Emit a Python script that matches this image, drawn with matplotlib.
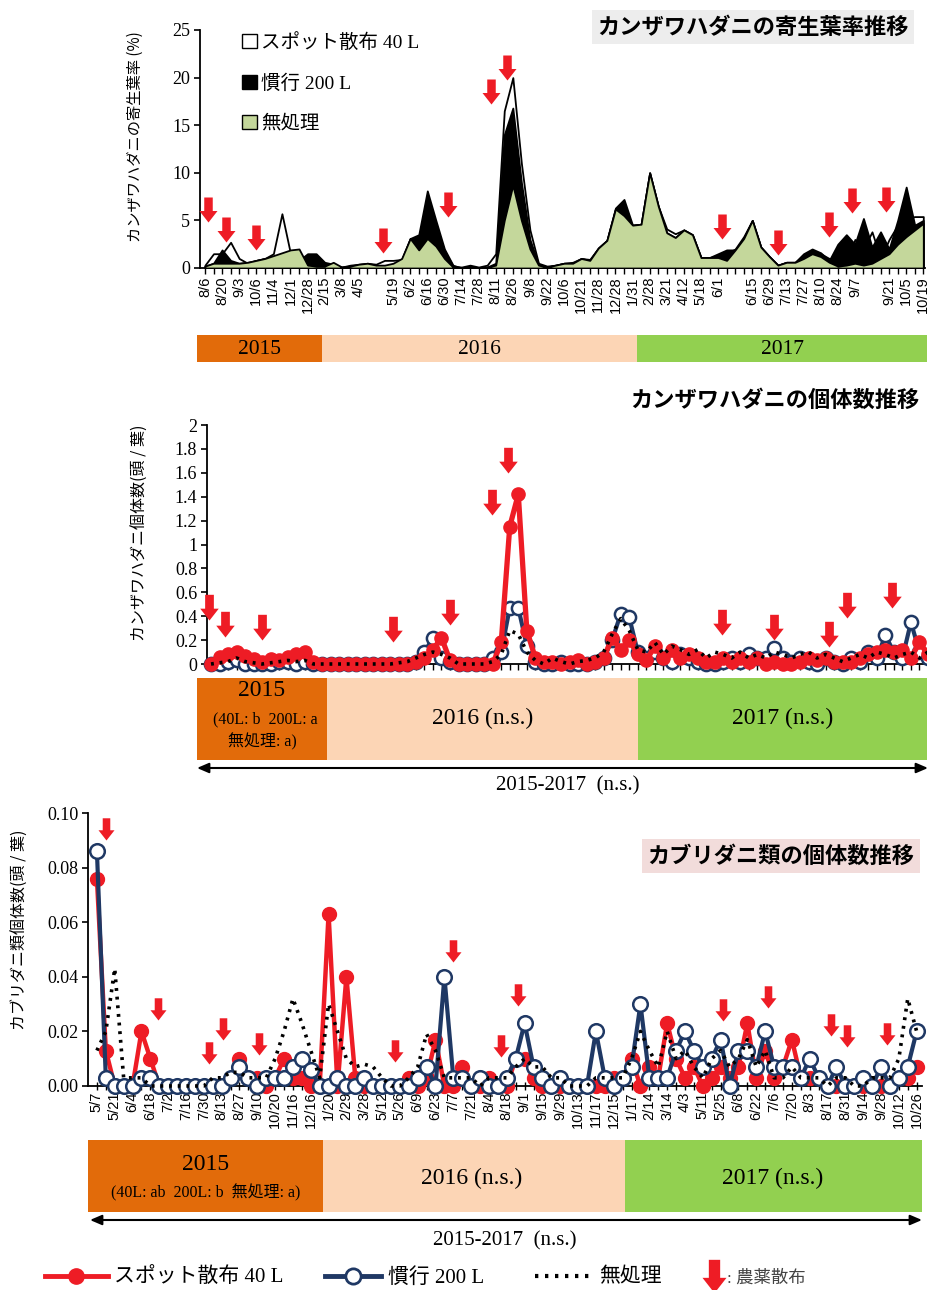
import numpy as np
import matplotlib
matplotlib.use("Agg")
import matplotlib.pyplot as plt
from matplotlib.path import Path
from matplotlib.patches import Patch, Rectangle
from matplotlib.lines import Line2D

# ---------------- data ----------------
top_labels = ["8/6", "8/20", "9/3", "10/6", "11/4", "12/1", "12/28", "2/15", "3/8", "4/5", "",
              "5/19", "6/2", "6/16", "6/30", "7/14", "7/28", "8/11", "8/26", "9/8", "9/22",
              "10/6", "10/21", "11/28", "12/28", "1/31", "2/28", "3/21", "4/12", "5/18", "6/1", "",
              "6/15", "6/29", "7/13", "7/27", "8/10", "8/24", "9/7", "", "9/21", "10/5", "10/19"]

# 寄生葉率 (%)
top_spot = [0.3, 1.5, 1.5, 2.7, 1.0, 0.5, 0.8, 1.0, 1.5, 5.7,
            1.5, 0.5, 0.5, 0.5, 0.4, 0.3, 0.1, 0.3, 0.4, 0.5,
            0.4, 0.8, 0.8, 0.9, 3.1, 2.5, 6.5, 4.5, 1.8, 0.2,
            0.1, 0.3, 0.1, 0.3, 1.5, 16.5, 20.0, 11.0, 4.0, 0.5,
            0.2, 0.3, 0.5, 0.6, 1.0, 0.9, 2.1, 2.9, 6.2, 5.5,
            4.5, 4.6, 10.0, 6.5, 4.1, 3.6, 4.0, 3.5, 1.1, 1.1,
            1.3, 1.5, 2.0, 3.3, 5.0, 2.2, 1.2, 0.3, 0.6, 0.6,
            1.3, 1.8, 1.5, 1.0, 1.0, 0.5, 3.0, 2.0, 3.8, 1.0,
            3.0, 4.5, 5.2, 5.4, 5.4]
top_conv = [0.2, 0.5, 1.9, 0.8, 0.5, 0.6, 0.8, 1.0, 1.0, 1.2,
            1.0, 0.8, 1.5, 1.5, 0.6, 0.4, 0.1, 0.2, 0.3, 0.4,
            0.2, 0.2, 0.3, 0.8, 3.1, 3.5, 8.1, 5.0, 2.0, 0.3,
            0.0, 0.2, 0.0, 0.1, 0.5, 14.0, 16.8, 9.0, 3.0, 0.4,
            0.1, 0.3, 0.5, 0.5, 1.0, 0.8, 2.1, 2.9, 6.3, 7.2,
            4.5, 4.6, 10.0, 6.5, 3.7, 3.2, 4.0, 3.5, 1.1, 1.1,
            1.5, 1.9, 1.9, 3.1, 5.0, 2.2, 1.2, 0.3, 0.6, 0.6,
            1.5, 2.0, 1.6, 0.8, 2.5, 3.5, 2.5, 5.2, 2.2, 3.8,
            2.0, 5.0, 8.5, 4.5, 5.0]
top_none = [0.2, 0.5, 0.5, 0.5, 0.5, 0.6, 0.8, 1.0, 1.3, 1.6,
            1.9, 2.0, 0.3, 0.2, 0.2, 0.6, 0.1, 0.2, 0.4, 0.5,
            0.3, 0.3, 0.5, 1.0, 3.1, 1.9, 3.1, 2.3, 1.0, 0.1,
            0.0, 0.1, 0.0, 0.1, 0.3, 5.0, 8.7, 5.0, 2.0, 0.3,
            0.1, 0.3, 0.5, 0.5, 1.0, 0.8, 2.1, 2.9, 6.2, 5.5,
            4.5, 4.6, 10.0, 6.5, 3.7, 3.2, 4.0, 3.5, 1.1, 1.1,
            1.1, 0.8, 1.9, 3.1, 5.0, 2.2, 1.2, 0.3, 0.6, 0.6,
            1.0, 1.5, 1.2, 0.6, 0.2, 0.3, 0.5, 0.3, 0.5, 1.0,
            1.5, 2.5, 3.3, 4.0, 4.7]
top_arrow_x = [0.35, 2.46, 5.96, 20.8, 28.4, 33.45, 35.3, 60.5, 67.0, 73.0, 75.7, 79.65]
top_arrow_y = [4.8, 2.7, 1.9, 1.6, 5.4, 17.2, 19.7, 3.05, 1.4, 3.25, 5.8, 5.9]

# カンザワハダニ個体数 (頭/葉)
mid_spot = [0.0, 0.06, 0.08, 0.10, 0.07, 0.04, 0.02, 0.04, 0.03, 0.06,
            0.08, 0.10, 0.02, 0.0, 0.0, 0.0, 0.0, 0.0, 0.0, 0.0,
            0.0, 0.0, 0.0, 0.0, 0.02, 0.05, 0.12, 0.22, 0.03, 0.0,
            0.0, 0.0, 0.0, 0.0, 0.18, 1.15, 1.42, 0.28, 0.05, 0.02,
            0.02, 0.0, 0.02, 0.03, 0.0, 0.02, 0.05, 0.22, 0.12, 0.20,
            0.08, 0.03, 0.15, 0.05, 0.12, 0.05, 0.08, 0.05, 0.02, 0.02,
            0.05, 0.02, 0.05, 0.02, 0.05, 0.0, 0.02, 0.0, 0.0, 0.02,
            0.05, 0.03, 0.05, 0.02, 0.02, 0.02, 0.05, 0.08, 0.10, 0.12,
            0.10, 0.12, 0.05, 0.18, 0.08]
mid_conv = [0.0, 0.0, 0.02, 0.03, 0.0, 0.0, 0.0, 0.0, 0.02, 0.02,
            0.0, 0.02, 0.0, 0.0, 0.0, 0.0, 0.0, 0.0, 0.0, 0.0,
            0.0, 0.0, 0.0, 0.0, 0.02, 0.10, 0.22, 0.05, 0.02, 0.0,
            0.0, 0.0, 0.0, 0.05, 0.10, 0.47, 0.47, 0.15, 0.02, 0.0,
            0.0, 0.02, 0.0, 0.0, 0.0, 0.02, 0.05, 0.20, 0.42, 0.39,
            0.10, 0.05, 0.10, 0.05, 0.02, 0.08, 0.05, 0.02, 0.0, 0.0,
            0.02, 0.05, 0.02, 0.08, 0.05, 0.05, 0.13, 0.05, 0.02, 0.05,
            0.02, 0.0, 0.05, 0.02, 0.0, 0.05, 0.02, 0.10, 0.05, 0.24,
            0.10, 0.05, 0.35, 0.10, 0.05]
mid_none = [0.0, 0.01, 0.02, 0.05, 0.02, 0.01, 0.0, 0.01, 0.02, 0.03,
            0.02, 0.03, 0.0, 0.0, 0.0, 0.0, 0.0, 0.0, 0.0, 0.0,
            0.0, 0.0, 0.01, 0.02, 0.05, 0.08, 0.10, 0.08, 0.05, 0.0,
            0.0, 0.0, 0.0, 0.02, 0.08, 0.28, 0.25, 0.10, 0.03, 0.0,
            0.05, 0.02, 0.0, 0.02, 0.03, 0.05, 0.10, 0.25, 0.38, 0.28,
            0.12, 0.10, 0.18, 0.08, 0.15, 0.12, 0.08, 0.12, 0.05, 0.10,
            0.08, 0.05, 0.10, 0.05, 0.08, 0.05, 0.10, 0.08, 0.05, 0.08,
            0.10, 0.05, 0.08, 0.05, 0.02, 0.05, 0.08, 0.05, 0.10, 0.08,
            0.05, 0.08, 0.10, 0.05, 0.10]
mid_arrow_x = [-0.23, 1.64, 5.96, 21.3, 27.95, 32.9, 34.85, 59.9, 65.96, 72.4, 74.5, 79.8]
mid_arrow_y = [0.37, 0.23, 0.20, 0.18, 0.33, 1.25, 1.60, 0.24, 0.20, 0.14, 0.385, 0.47]

# カブリダニ類個体数 (頭/葉)
bot_labels = ["5/7", "5/21", "6/4", "6/18", "7/2", "7/16", "7/30", "8/13", "8/27", "9/10",
              "10/20", "11/16", "12/16", "1/20", "2/29", "3/28", "5/12", "5/26", "6/9", "6/23",
              "7/7", "7/21", "8/4", "8/18", "9/1", "9/15", "9/29", "10/13", "11/17", "12/15",
              "1/17", "2/14", "3/14", "4/3", "5/11", "5/25", "6/8", "6/22", "7/6", "7/20",
              "8/3", "8/17", "8/31", "9/14", "9/28", "10/12", "10/26"]
bot_spot = [0.076, 0.013, 0.0, 0.0, 0.0, 0.020, 0.010, 0.0, 0.0, 0.0,
            0.0, 0.0, 0.0, 0.0, 0.0, 0.003, 0.010, 0.003, 0.003, 0.0,
            0.003, 0.010, 0.003, 0.003, 0.0, 0.0, 0.063, 0.0, 0.040, 0.003,
            0.0, 0.0, 0.0, 0.0, 0.0, 0.003, 0.0, 0.003, 0.017, 0.0,
            0.0, 0.007, 0.0, 0.0, 0.003, 0.0, 0.0, 0.010, 0.010, 0.003,
            0.0, 0.0, 0.0, 0.0, 0.0, 0.0, 0.0, 0.0, 0.003, 0.003,
            0.010, 0.0, 0.007, 0.003, 0.023, 0.010, 0.003, 0.007, 0.0, 0.003,
            0.007, 0.003, 0.007, 0.023, 0.003, 0.013, 0.003, 0.007, 0.017, 0.003,
            0.003, 0.003, 0.0, 0.0, 0.0, 0.0, 0.0, 0.0, 0.0, 0.0,
            0.003, 0.003, 0.007]
bot_conv = [0.086, 0.003, 0.0, 0.0, 0.0, 0.003, 0.003, 0.0, 0.0, 0.0,
            0.0, 0.0, 0.0, 0.0, 0.0, 0.003, 0.007, 0.003, 0.0, 0.003,
            0.003, 0.003, 0.007, 0.010, 0.006, 0.0, 0.0, 0.003, 0.0, 0.0,
            0.003, 0.0, 0.0, 0.0, 0.0, 0.0, 0.003, 0.007, 0.0, 0.040,
            0.003, 0.003, 0.0, 0.003, 0.0, 0.0, 0.003, 0.010, 0.023, 0.007,
            0.003, 0.0, 0.003, 0.0, 0.0, 0.0, 0.020, 0.003, 0.0, 0.003,
            0.007, 0.030, 0.003, 0.003, 0.003, 0.013, 0.020, 0.013, 0.007, 0.010,
            0.017, 0.0, 0.013, 0.013, 0.007, 0.020, 0.007, 0.007, 0.007, 0.003,
            0.010, 0.003, 0.0, 0.007, 0.0, 0.0, 0.003, 0.0, 0.007, 0.0,
            0.003, 0.007, 0.020]
bot_none = [0.013, 0.020, 0.043, 0.003, 0.003, 0.003, 0.0, 0.0, 0.0, 0.0,
            0.0, 0.0, 0.0, 0.003, 0.003, 0.005, 0.005, 0.003, 0.003, 0.003,
            0.010, 0.020, 0.032, 0.023, 0.013, 0.003, 0.030, 0.020, 0.010, 0.007,
            0.008, 0.007, 0.003, 0.0, 0.0, 0.003, 0.007, 0.019, 0.013, 0.003,
            0.003, 0.003, 0.003, 0.0, 0.003, 0.003, 0.003, 0.007, 0.010, 0.007,
            0.007, 0.003, 0.003, 0.0, 0.0, 0.0, 0.003, 0.003, 0.003, 0.003,
            0.010, 0.020, 0.013, 0.007, 0.020, 0.010, 0.013, 0.007, 0.003, 0.010,
            0.013, 0.007, 0.010, 0.017, 0.007, 0.013, 0.003, 0.003, 0.007, 0.003,
            0.003, 0.003, 0.0, 0.003, 0.003, 0.0, 0.0, 0.003, 0.003, 0.003,
            0.010, 0.032, 0.020]
bot_arrow_x = [1.0, 6.85, 12.6, 14.1, 18.2, 33.4, 40.0, 45.3, 47.3, 70.3, 75.3, 82.4, 84.2, 88.7]
bot_arrow_y = [0.090, 0.024, 0.008, 0.017, 0.0114, 0.0088, 0.0454, 0.0106, 0.0293, 0.0238,
               0.0286, 0.0183, 0.0143, 0.0150]

series_names = ["スポット散布 40 L", "慣行 200 L", "無処理"]
years = ["2015", "2016", "2017"]

# ---------------- style ----------------
W, H = 928, 1290
SERIF = ["Liberation Serif", "Noto Sans CJK JP", "DejaVu Sans"]
JP = ["Noto Sans CJK JP", "DejaVu Sans"]
SANS = ["Liberation Sans", "DejaVu Sans"]
plt.rcParams["font.family"] = SERIF

RED = "#EE1C25"
NAVY = "#1F3864"
GREEN_AREA = "#C4D79B"
C2015 = "#E26B0A"
C2016 = "#FCD5B5"
C2017 = "#92D050"

fig = plt.figure(figsize=(W / 100, H / 100), dpi=100)


def px_axes(l, t, r, b):
    return fig.add_axes([l / W, 1 - b / H, (r - l) / W, (b - t) / H])


ARROW = Path([(0, 0), (-0.36, 0.46), (-0.17, 0.46), (-0.17, 1.0), (0.17, 1.0),
              (0.17, 0.46), (0.36, 0.46), (0, 0)], closed=True)
ARROW_C = Path([(0, -1), (-0.72, -0.08), (-0.34, -0.08), (-0.34, 1.0), (0.34, 1.0),
                (0.34, -0.08), (0.72, -0.08), (0, -1)], closed=True)


def style_axes(ax, ysize=13):
    for s in ["top", "right"]:
        ax.spines[s].set_visible(False)
    for s in ["left", "bottom"]:
        ax.spines[s].set_linewidth(1.3)
    ax.tick_params(axis="y", direction="out", length=4, width=1.2, labelsize=ysize, pad=3)
    for t in ax.get_yticklabels():
        t.set_family(SERIF)


# ---------------- top panel: area ----------------
ax1 = px_axes(200, 30, 925, 268)
x1 = np.arange(len(top_spot))
ax1.fill_between(x1, 0, top_spot, facecolor="white", edgecolor="black", lw=1.3, zorder=1)
ax1.fill_between(x1, 0, top_conv, facecolor="black", edgecolor="black", lw=1.3, zorder=2)
ax1.fill_between(x1, 0, top_none, facecolor=GREEN_AREA, edgecolor="black", lw=1.3, zorder=3)
ax1.set_ylim(0, 25)
ax1.set_xlim(-0.58, 84.2)
ax1.set_yticks(np.arange(0, 26, 5))
ax1.set_yticklabels([str(v) for v in range(0, 26, 5)])
ax1.set_xticks(np.arange(0, len(top_spot), 2))
ax1.set_xticklabels(top_labels, rotation=90, fontsize=10.5, family=SANS)
ax1.set_xticks(x1, minor=True)
ax1.tick_params(axis="x", which="both", direction="out", length=4, width=1.0, pad=2)
style_axes(ax1)
ax1.plot(top_arrow_x, top_arrow_y, ls="none", marker=ARROW, ms=36, color=RED, mec="none",
         zorder=6, clip_on=False)
ax1.legend(handles=[Patch(facecolor="white", edgecolor="black"),
                    Patch(facecolor="black", edgecolor="black"),
                    Patch(facecolor=GREEN_AREA, edgecolor="black")],
           labels=series_names, loc="upper left", bbox_to_anchor=(242 / W, 1 - 33 / H),
           bbox_transform=fig.transFigure, frameon=False, prop={"family": SERIF, "size": 14},
           handlelength=0.75, handleheight=0.75, handletextpad=0.25, labelspacing=1.15,
           borderpad=0, borderaxespad=0)

# ---------------- middle panel ----------------
ax2 = px_axes(207, 425, 928, 664)
x2 = np.arange(len(mid_spot))
ax2.plot(x2, mid_conv, color=NAVY, lw=3, marker="o", ms=9.5, mfc="white", mec=NAVY, mew=1.8,
         zorder=3, clip_on=False)
ax2.plot(x2, mid_spot, color=RED, lw=3.8, marker="o", ms=9.5, mfc=RED, mec=RED, zorder=4,
         clip_on=False)
ax2.plot(x2, mid_none, color="black", lw=2.6, ls=(0, (0.8, 1.6)), zorder=5, clip_on=False)
ax2.set_ylim(0, 2)
ax2.set_xlim(-0.47, 83.9)
yt2 = np.round(np.arange(0, 2.01, 0.2), 1)
ax2.set_yticks(yt2)
ax2.set_yticklabels(["%g" % v for v in yt2])
ax2.set_xticks(x2)
ax2.set_xticklabels([])
ax2.tick_params(axis="x", direction="out", length=4, width=1.0)
style_axes(ax2)
ax2.plot(mid_arrow_x, mid_arrow_y, ls="none", marker=ARROW, ms=37, color=RED, mec="none",
         zorder=6, clip_on=False)

# ---------------- bottom panel ----------------
ax3 = px_axes(88, 813, 922, 1086)
x3 = np.arange(len(bot_spot))
ax3.plot(x3, bot_spot, color=RED, lw=3.2, marker="o", ms=10, mfc=RED, mec=RED, zorder=3,
         clip_on=False)
ax3.plot(x3, bot_conv, color=NAVY, lw=3, marker="o", ms=10.5, mfc="white", mec=NAVY, mew=1.8,
         zorder=4, clip_on=False)
ax3.plot(x3, bot_none, color="black", lw=2.6, ls=(0, (0.8, 1.6)), zorder=5, clip_on=False)
ax3.set_ylim(0, 0.10)
ax3.set_xlim(-1.0, 92.6)
yt3 = np.round(np.arange(0, 0.101, 0.02), 2)
ax3.set_yticks(yt3)
ax3.set_yticklabels(["%.2f" % v for v in yt3])
ax3.set_xticks(np.arange(0, len(bot_spot), 2))
ax3.set_xticklabels(bot_labels, rotation=90, fontsize=10.5, family=SANS)
ax3.set_xticks(x3, minor=True)
ax3.tick_params(axis="x", which="both", direction="inout", length=6, width=1.0, pad=1)
style_axes(ax3)
ax3.plot(bot_arrow_x, bot_arrow_y, ls="none", marker=ARROW, ms=32, color=RED, mec="none",
         zorder=6, clip_on=False)

# ---------------- overlay (annotations) ----------------
ov = fig.add_axes([0, 0, 1, 1])
ov.set_xlim(0, W)
ov.set_ylim(H, 0)
ov.axis("off")
ov.set_zorder(10)

# titles
ov.text(753, 27, "カンザワハダニの寄生葉率推移", ha="center", va="center", fontsize=16,
        fontweight="bold", family=JP,
        bbox=dict(boxstyle="square,pad=0.25", fc="#EDEDED", ec="none"))
ov.text(775, 400, "カンザワハダニの個体数推移", ha="center", va="center", fontsize=16,
        fontweight="bold", family=JP)
ov.text(781, 856, "カブリダニ類の個体数推移", ha="center", va="center", fontsize=16,
        fontweight="bold", family=JP,
        bbox=dict(boxstyle="square,pad=0.25", fc="#F2DCDB", ec="none"))

# y labels
ov.text(135, 137, "カンザワハダニの寄生葉率 (%)", rotation=90, ha="center", va="center",
        fontsize=11, family=JP)
ov.text(140, 533, "カンザワハダニ個体数(頭 / 葉)", rotation=90, ha="center", va="center",
        fontsize=11.5, family=JP)
ov.text(20, 930, "カブリダニ類個体数(頭 / 葉)", rotation=90, ha="center", va="center",
        fontsize=11.5, family=JP)

# year bars - top
for (l, r, c, y) in [(197, 322, C2015, years[0]), (322, 637, C2016, years[1]),
                     (637, 928, C2017, years[2])]:
    ov.add_patch(Rectangle((l, 335), r - l, 27, fc=c, ec="none"))
    ov.text((l + r) / 2, 349, y, ha="center", va="center", fontsize=15.5, family=SERIF)

# year bars - middle
ov.add_patch(Rectangle((197, 678), 130, 82, fc=C2015, ec="none"))
ov.add_patch(Rectangle((327, 678), 311, 82, fc=C2016, ec="none"))
ov.add_patch(Rectangle((638, 678), 290, 82, fc=C2017, ec="none"))
ov.text(262, 691, "2015", ha="center", va="center", fontsize=17, family=SERIF)
ov.text(265, 719, "(40L: b  200L: a", ha="center", va="center", fontsize=11.5, family=SERIF)
ov.text(262, 742, "無処理: a)", ha="center", va="center", fontsize=11.5, family=SERIF)
ov.text(483, 718, "2016 (n.s.)", ha="center", va="center", fontsize=17, family=SERIF)
ov.text(783, 718, "2017 (n.s.)", ha="center", va="center", fontsize=17, family=SERIF)
ov.annotate("", xy=(928, 768), xytext=(197, 768),
            arrowprops=dict(arrowstyle="<|-|>,head_length=0.7,head_width=0.3", color="black",
                            lw=1.5, shrinkA=0, shrinkB=0))
ov.text(568, 786, "2015-2017  (n.s.)", ha="center", va="center", fontsize=15, family=SERIF)

# year bars - bottom
ov.add_patch(Rectangle((88, 1140), 235, 72, fc=C2015, ec="none"))
ov.add_patch(Rectangle((323, 1140), 302, 72, fc=C2016, ec="none"))
ov.add_patch(Rectangle((625, 1140), 297, 72, fc=C2017, ec="none"))
ov.text(206, 1165, "2015", ha="center", va="center", fontsize=17, family=SERIF)
ov.text(206, 1193, "(40L: ab  200L: b  無処理: a)", ha="center", va="center", fontsize=11.5,
        family=SERIF)
ov.text(472, 1178, "2016 (n.s.)", ha="center", va="center", fontsize=17, family=SERIF)
ov.text(773, 1178, "2017 (n.s.)", ha="center", va="center", fontsize=17, family=SERIF)
ov.annotate("", xy=(922, 1220), xytext=(90, 1220),
            arrowprops=dict(arrowstyle="<|-|>,head_length=0.7,head_width=0.3", color="black",
                            lw=1.5, shrinkA=0, shrinkB=0))
ov.text(505, 1241, "2015-2017  (n.s.)", ha="center", va="center", fontsize=15, family=SERIF)

# bottom legend
leg_items = [
    (Line2D([0], [0], color=RED, lw=3.5, marker="o", ms=11, mfc=RED, mec=RED),
     series_names[0], 45, 3.0, {"family": SERIF, "size": 15}, "black"),
    (Line2D([0], [0], color=NAVY, lw=3.5, marker="o", ms=11, mfc="white", mec=NAVY, mew=2),
     series_names[1], 325, 2.7, {"family": SERIF, "size": 15}, "black"),
    (Line2D([0], [0], color="black", lw=3, ls=(0, (0.8, 1.6))),
     series_names[2], 535, 2.8, {"family": SERIF, "size": 15}, "black"),
    (Line2D([0], [0], ls="none", marker=ARROW_C, ms=24, color=RED, mec="none"),
     ": 農薬散布", 706, 0.9, {"family": SERIF, "size": 12.5}, "#444444"),
]
for h, lab, xl, hl, prop, tc in leg_items:
    lg = fig.legend(handles=[h], labels=[lab], loc="center left",
                    bbox_to_anchor=(xl / W, 1 - 1278 / H), frameon=False, prop=prop,
                    handlelength=hl, handletextpad=0.3, borderpad=0, borderaxespad=0,
                    numpoints=1)
    for t in lg.get_texts():
        t.set_color(tc)

fig.savefig("out.png", dpi=100)
